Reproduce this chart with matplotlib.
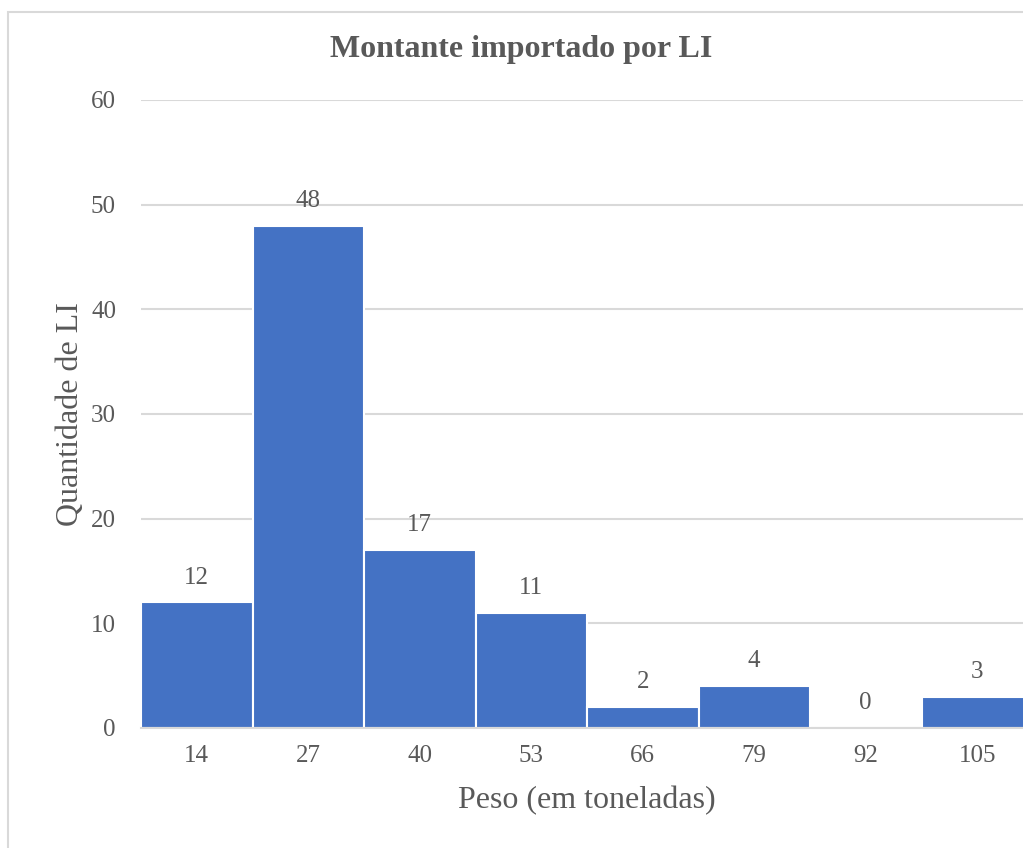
import matplotlib.pyplot as plt
from matplotlib.patches import Rectangle

# dados do histograma
categorias = ['14', '27', '40', '53', '66', '79', '92', '105']
quantidades = [12, 48, 17, 11, 2, 4, 0, 3]

plt.rcParams['font.family'] = ['Liberation Serif', 'DejaVu Serif']
cinza = '#595959'

fig = plt.figure(figsize=(10.23, 8.48), dpi=100)
# borda da area do grafico (cortada a direita e em baixo)
fig.patches.append(Rectangle((8 / 1023, -0.1), 1.2, 0.1 + (848 - 12) / 848,
                             transform=fig.transFigure, fill=False,
                             edgecolor='#D9D9D9', linewidth=1.5))

ax = fig.add_axes([141 / 1023, 120 / 848, 892 / 1023, 628 / 848])
x = list(range(len(categorias)))
barras = ax.bar(x, quantidades, width=1.0, color='#4472C4',
                edgecolor='white', linewidth=1.5, zorder=3)

for xi, v in zip(x, quantidades):
    ax.annotate(str(v), (xi, v), xytext=(0, 10), textcoords='offset points',
                ha='center', va='bottom', fontsize=18, color=cinza)

ax.set_xlim(-0.5, len(categorias) - 0.5)
ax.set_ylim(0, 60)
ax.set_yticks(range(0, 61, 10))
ax.set_xticks(x)
ax.set_xticklabels(categorias)
ax.tick_params(axis='both', length=0, labelsize=18, labelcolor=cinza)
ax.tick_params(axis='y', pad=18)
ax.tick_params(axis='x', pad=12)
ax.grid(axis='y', color='#D9D9D9', linewidth=1.5, zorder=0)
for s in ['top', 'right', 'left']:
    ax.spines[s].set_visible(False)
ax.spines['bottom'].set_color('#D9D9D9')
ax.spines['bottom'].set_linewidth(1.5)
ax.spines['bottom'].set_zorder(4)

ax.set_ylabel('Quantidade de LI', fontsize=23, color=cinza, labelpad=4)
ax.set_xlabel('Peso (em toneladas)', fontsize=23, color=cinza, labelpad=14)
fig.text(521 / 1023, 1 - 50 / 848, 'Montante importado por LI', ha='center',
         va='center', fontsize=23, fontweight='bold', color=cinza)

fig.savefig('out.png', dpi=100)
